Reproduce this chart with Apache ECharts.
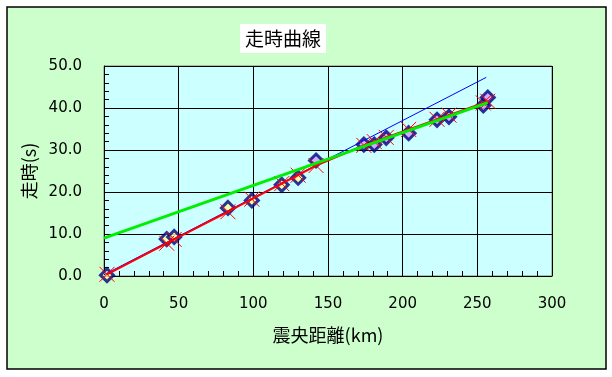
<!DOCTYPE html>
<html>
<head>
<meta charset="utf-8">
<script src="https://cdn.jsdelivr.net/npm/echarts@6/dist/echarts.min.js"></script>
<style>
    html, body { margin: 0; padding: 0; background: #ffffff; }
    #chart { width: 612px; height: 377px; }
</style>
</head>
<body>
<div id="chart"></div>
<script>
// 観測値（震央距離 km, 走時 s）
const distance = [2, 42, 47, 83, 99, 119, 130, 142, 174, 181, 189, 204, 223, 231, 254, 257];
const observed = [0.2, 8.8, 9.3, 16.2, 18.0, 21.7, 23.4, 27.5, 31.3, 31.3, 32.9, 34.0, 37.2, 37.9, 40.6, 42.5];
// 計算値（赤い×）
const calculated = [0.4, 7.8, 8.7, 15.3, 18.3, 22.0, 24.0, 26.3, 31.1, 32.0, 33.0, 34.9, 37.3, 38.3, 41.2, 41.6];
// 直接波・屈折波の直線（端点）
const directLine = [[0, 0.3], [256, 47.3]];
const refractLine = [[0, 9.0], [257, 41.3]];
// 黄色の点と紫の点の境目
const splitIndex = 7;
const xTicks = [0, 50, 100, 150, 200, 250, 300];
const yTicks = [0, 10, 20, 30, 40, 50];

document.addEventListener('DOMContentLoaded', function () {
    const chartDom = document.getElementById('chart');
    const myChart = echarts.init(chartDom);

    const pairs = (xs, ys) => xs.map((x, i) => [x, ys[i]]);
    const obsPts = pairs(distance, observed);
    const calcPts = pairs(distance, calculated);

    const labelFont = { color: '#000', fontSize: 15, fontFamily: 'DejaVu Sans' };
    const nameFont = { color: '#000', fontSize: 18, fontFamily: 'Noto Sans CJK JP' };

    const option = {
        animation: false,
        backgroundColor: '#ffffff',
        graphic: [
            {
                type: 'rect',
                z: -10,
                shape: { x: 7, y: 7, width: 599, height: 362 },
                style: { fill: '#ccffcc', stroke: '#000', lineWidth: 1.5 }
            }
        ],
        title: {
            text: '走時曲線',
            left: 278,
            top: 24,
            textAlign: 'center',
            backgroundColor: '#ffffff',
            padding: [5, 5],
            textStyle: { color: '#000', fontSize: 19, fontWeight: 'normal', fontFamily: 'Noto Sans CJK JP' }
        },
        grid: {
            left: 104,
            top: 66,
            right: 60,
            bottom: 101,
            show: true,
            backgroundColor: '#ccffff',
            borderColor: '#808080',
            borderWidth: 1
        },
        xAxis: {
            type: 'value',
            min: xTicks[0],
            max: xTicks[xTicks.length - 1],
            interval: 50,
            name: '震央距離(km)',
            nameLocation: 'middle',
            nameGap: 50,
            nameTextStyle: nameFont,
            axisLine: { lineStyle: { color: '#000', width: 1 } },
            axisTick: { inside: true, length: 6, lineStyle: { color: '#000' } },
            minorTick: { show: true, splitNumber: 5, length: 5, lineStyle: { color: '#000' } },
            axisLabel: Object.assign({ margin: 21 }, labelFont),
            splitLine: { lineStyle: { color: '#000', width: 1 } }
        },
        yAxis: {
            type: 'value',
            min: yTicks[0],
            max: yTicks[yTicks.length - 1],
            interval: 10,
            name: '走時(s)',
            nameLocation: 'middle',
            nameGap: 64,
            nameTextStyle: nameFont,
            axisLine: { show: true, lineStyle: { color: '#000', width: 1 } },
            axisTick: { inside: true, length: 6, lineStyle: { color: '#000' } },
            minorTick: { show: true, splitNumber: 5, length: 5, lineStyle: { color: '#000' } },
            axisLabel: Object.assign({ margin: 22, formatter: v => v.toFixed(1) }, labelFont),
            splitLine: { lineStyle: { color: '#000', width: 1 } }
        },
        series: [
            {
                name: '観測値',
                type: 'scatter',
                z: 2,
                symbol: 'diamond',
                symbolSize: 13,
                itemStyle: { color: '#ffff99', borderColor: '#000080', borderWidth: 3 },
                data: obsPts.slice(0, splitIndex)
            },
            {
                name: '観測値2',
                type: 'scatter',
                z: 2,
                symbol: 'diamond',
                symbolSize: 13,
                itemStyle: { color: '#cc99ff', borderColor: '#000080', borderWidth: 3 },
                data: obsPts.slice(splitIndex)
            },
            {
                name: '直接波',
                type: 'line',
                z: 3,
                symbol: 'none',
                lineStyle: { color: '#0000ff', width: 1 },
                data: directLine
            },
            {
                name: '計算値',
                type: 'line',
                z: 4,
                symbol: 'path://M0,0L10,10M10,0L0,10',
                symbolSize: 15,
                itemStyle: { color: 'rgba(0,0,0,0)', borderColor: '#ff0000', borderWidth: 1 },
                lineStyle: { color: '#ff0000', width: 2 },
                data: calcPts
            },
            {
                name: '屈折波',
                type: 'line',
                z: 5,
                symbol: 'none',
                lineStyle: { color: '#00ee00', width: 3 },
                data: refractLine
            }
        ]
    };
    myChart.setOption(option);
});
</script>
</body>
</html>
